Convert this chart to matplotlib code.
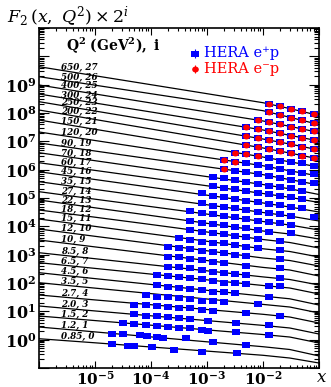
import numpy as np
import matplotlib
matplotlib.use('Agg')
import matplotlib.pyplot as plt
from matplotlib.path import Path
from matplotlib.transforms import Affine2D
from matplotlib.ticker import LogLocator, FixedLocator, NullFormatter

# Q^2 bins (GeV^2) and the power i of the 2^i offset applied to each bin
q2_labels = ['650', '500', '400', '300', '250', '200', '150', '120', '90', '70', '60', '45', '35', '27',
             '22', '18', '15', '12', '10', '8.5', '6.5', '4.5', '3.5', '2.7', '2.0', '1.5', '1.2', '0.85']
shift_i = [27, 26, 25, 24, 23, 22, 21, 20, 19, 18, 17, 16, 15, 14,
           13, 12, 11, 10, 9, 8, 7, 6, 5, 4, 3, 2, 1, 0]

# QCD fit curves: F2 at fixed x nodes, one row per Q^2 bin
x_fit = [1e-6, 1e-5, 1e-4, 1e-3, 1e-2, 3e-2, 1e-1]
f2_fit = [
    [32.1, 15.4, 7.43, 3.58, 1.72, 1.07, 0.608],
    [28.5, 14.3, 7.15, 3.58, 1.80, 1.05, 0.585],
    [29.0, 14.0, 6.72, 3.23, 1.56, 1.01, 0.611],
    [27.9, 13.4, 6.47, 3.11, 1.50, 0.973, 0.612],
    [29.9, 14.0, 6.59, 3.07, 1.44, 0.960, 0.589],
    [30.4, 14.1, 6.50, 3.00, 1.39, 0.924, 0.567],
    [27.0, 12.7, 6.00, 2.82, 1.33, 0.904, 0.592],
    [20.4, 10.2, 5.11, 2.58, 1.31, 0.870, 0.570],
    [16.7, 8.69, 4.54, 2.41, 1.27, 0.851, 0.549],
    [15.1, 7.91, 4.13, 2.17, 1.14, 0.806, 0.507],
    [13.4, 7.19, 3.84, 2.06, 1.10, 0.808, 0.529],
    [12.9, 6.86, 3.64, 1.92, 1.02, 0.734, 0.489],
    [11.5, 6.14, 3.28, 1.76, 0.939, 0.707, 0.471],
    [10.2, 5.54, 3.03, 1.65, 0.904, 0.680, 0.453],
    [10.4, 5.50, 2.94, 1.56, 0.835, 0.655, 0.436],
    [9.21, 5.13, 2.83, 1.54, 0.837, 0.656, 0.420],
    [8.86, 4.86, 2.64, 1.45, 0.787, 0.632, 0.404],
    [7.86, 4.34, 2.42, 1.34, 0.745, 0.608, 0.389],
    [6.43, 3.67, 2.11, 1.21, 0.694, 0.562, 0.345],
    [4.58, 2.81, 1.71, 1.05, 0.641, 0.519, 0.332],
    [4.07, 2.56, 1.61, 1.01, 0.638, 0.520, 0.320],
    [3.61, 2.23, 1.39, 0.863, 0.539, 0.433, 0.261],
    [3.20, 2.06, 1.32, 0.851, 0.549, 0.444, 0.273],
    [2.36, 1.58, 1.07, 0.725, 0.491, 0.394, 0.242],
    [1.93, 1.29, 0.869, 0.589, 0.399, 0.323, 0.198],
    [1.71, 1.18, 0.810, 0.553, 0.380, 0.310, 0.191],
    [1.40, 0.940, 0.626, 0.420, 0.282, 0.225, 0.133],
    [1.08, 0.775, 0.551, 0.395, 0.281, 0.225, 0.150],
]

# HERA e+p measurements: x and F2 per Q^2 bin (same order as above)
ep_x = [
    [1.3e-2, 2e-2, 3.2e-2, 5e-2, 8e-2],
    [1.3e-2, 2e-2, 3.2e-2, 5e-2, 8e-2],
    [8e-3, 1.3e-2, 2e-2, 3.2e-2, 5e-2, 8e-2],
    [5e-3, 8e-3, 1.3e-2, 2e-2, 3.2e-2, 5e-2, 8e-2],
    [5e-3, 8e-3, 1.3e-2, 2e-2, 3.2e-2, 5e-2, 8e-2],
    [5e-3, 8e-3, 1.3e-2, 2e-2, 3.2e-2, 5e-2, 8e-2],
    [3.2e-3, 5e-3, 8e-3, 1.3e-2, 2e-2, 3.2e-2, 5e-2, 8e-2],
    [2e-3, 3.2e-3, 5e-3, 8e-3, 1.3e-2, 2e-2, 3.2e-2, 5e-2, 8e-2],
    [2e-3, 3.2e-3, 5e-3, 8e-3, 1.3e-2, 2e-2, 3.2e-2, 5e-2, 8e-2],
    [1.3e-3, 2e-3, 3.2e-3, 5e-3, 8e-3, 1.3e-2, 2e-2, 3.2e-2, 5e-2],
    [1.3e-3, 2e-3, 3.2e-3, 5e-3, 8e-3, 1.3e-2, 2e-2, 3.2e-2, 5e-2],
    [8e-4, 1.3e-3, 2e-3, 3.2e-3, 5e-3, 8e-3, 1.3e-2, 2e-2, 3.2e-2, 5e-2],
    [8e-4, 1.3e-3, 2e-3, 3.2e-3, 5e-3, 8e-3, 1.3e-2, 2e-2, 3.2e-2, 8e-2],
    [5e-4, 8e-4, 1.3e-3, 2e-3, 3.2e-3, 5e-3, 8e-3, 1.3e-2, 2e-2, 3.2e-2],
    [5e-4, 8e-4, 1.3e-3, 2e-3, 3.2e-3, 5e-3, 8e-3, 1.3e-2, 3.2e-2],
    [5e-4, 8e-4, 1.3e-3, 2e-3, 3.2e-3, 5e-3, 8e-3, 2e-2],
    [3.2e-4, 5e-4, 8e-4, 1.3e-3, 2e-3, 3.2e-3, 5e-3, 8e-3, 2e-2],
    [2e-4, 3.2e-4, 5e-4, 8e-4, 1.3e-3, 2e-3, 3.2e-3, 5e-3, 2e-2],
    [2e-4, 3.2e-4, 5e-4, 8e-4, 1.3e-3, 2e-3, 5e-3, 2e-2],
    [2e-4, 3.2e-4, 5e-4, 8e-4, 1.3e-3, 2e-3, 3.2e-3, 5e-3, 2e-2],
    [1.3e-4, 2e-4, 3.2e-4, 5e-4, 8e-4, 1.3e-3, 2e-3, 3.2e-3, 5e-3, 1.3e-2, 2e-2],
    [1.3e-4, 2e-4, 3.2e-4, 5e-4, 8e-4, 1.3e-3, 2e-3, 3.2e-3, 1.3e-2],
    [8e-5, 1.3e-4, 2e-4, 3.2e-4, 5e-4, 8e-4, 1.3e-3, 2e-3, 8e-3],
    [5e-5, 8e-5, 1.3e-4, 2e-4, 3.2e-4, 5e-4, 8e-4, 1.3e-3, 5e-3, 2e-2],
    [5e-5, 8e-5, 1.3e-4, 2e-4, 3.2e-4, 5e-4, 1.05e-3, 3.3e-3, 1.3e-2],
    [3.2e-5, 5e-5, 8e-5, 1.3e-4, 2e-4, 3.2e-4, 5e-4, 8e-4, 1.05e-3, 3.3e-3, 1.3e-2],
    [2e-5, 3.2e-5, 6.4e-5, 8.4e-5, 1.3e-4, 1.66e-4, 4.2e-4, 1.3e-3, 5e-3],
    [2e-5, 3.9e-5, 5e-5, 1.03e-4, 2.6e-4, 8e-4, 3.4e-3],
]
ep_f2 = [
    [1.55, 1.32, 1.03, 0.877, 0.687],
    [1.66, 1.27, 1.02, 0.844, 0.645],
    [1.69, 1.40, 1.19, 0.979, 0.812, 0.690],
    [1.86, 1.58, 1.38, 1.15, 0.942, 0.801, 0.664],
    [1.84, 1.53, 1.33, 1.10, 0.937, 0.771, 0.639],
    [1.77, 1.47, 1.28, 1.09, 0.902, 0.742, 0.631],
    [1.89, 1.70, 1.45, 1.20, 0.988, 0.868, 0.800, 0.658],
    [2.09, 1.82, 1.60, 1.39, 1.16, 0.983, 0.808, 0.710, 0.671],
    [1.97, 1.75, 1.54, 1.31, 1.14, 0.946, 0.824, 0.683, 0.672],
    [2.15, 1.89, 1.61, 1.43, 1.19, 1.01, 0.956, 0.839, 0.690],
    [2.07, 1.76, 1.55, 1.35, 1.17, 1.03, 0.898, 0.808, 0.703],
    [2.24, 1.84, 1.62, 1.41, 1.23, 1.08, 0.914, 0.864, 0.717, 0.661],
    [1.98, 1.63, 1.50, 1.32, 1.15, 1.00, 0.880, 0.811, 0.707, 0.652],
    [2.07, 1.76, 1.62, 1.45, 1.27, 1.08, 0.965, 0.847, 0.781, 0.680],
    [1.88, 1.64, 1.44, 1.33, 1.18, 1.04, 0.906, 0.789, 0.693],
    [1.81, 1.58, 1.39, 1.31, 1.11, 1.00, 0.872, 0.741],
    [1.85, 1.61, 1.40, 1.29, 1.23, 1.07, 0.933, 0.819, 0.713],
    [1.78, 1.64, 1.51, 1.35, 1.24, 1.09, 0.950, 0.876, 0.670],
    [1.66, 1.58, 1.34, 1.27, 1.10, 1.02, 0.778, 0.645],
    [1.47, 1.40, 1.29, 1.12, 0.979, 0.902, 0.792, 0.748, 0.601],
    [1.50, 1.38, 1.24, 1.14, 1.06, 0.897, 0.801, 0.762, 0.703, 0.612, 0.612],
    [1.33, 1.16, 1.07, 0.960, 0.885, 0.770, 0.770, 0.677, 0.513],
    [1.18, 1.03, 0.978, 0.901, 0.851, 0.742, 0.724, 0.684, 0.567],
    [1.05, 1.05, 0.964, 0.867, 0.800, 0.800, 0.697, 0.642, 0.533, 0.428],
    [0.982, 0.855, 0.855, 0.770, 0.710, 0.670, 0.570, 0.473, 0.412],
    [0.945, 0.893, 0.823, 0.759, 0.683, 0.630, 0.630, 0.548, 0.506, 0.455, 0.356],
    [0.792, 0.792, 0.713, 0.657, 0.606, 0.559, 0.559, 0.404, 0.316],
    [0.686, 0.598, 0.598, 0.538, 0.432, 0.358, 0.330],
]

# HERA e-p measurements (high Q^2 bins only), keyed by shift i
em_i = [27, 26, 25, 24, 23, 22, 21, 20, 19]
em_x = [
    [1.3e-2, 2e-2, 3.2e-2, 5e-2, 8e-2],
    [1.3e-2, 2e-2, 3.2e-2, 5e-2, 8e-2],
    [8e-3, 1.3e-2, 2e-2, 3.2e-2, 5e-2, 8e-2],
    [5e-3, 8e-3, 1.3e-2, 2e-2, 3.2e-2, 5e-2, 8e-2],
    [5e-3, 8e-3, 1.3e-2, 2e-2, 3.2e-2, 5e-2, 8e-2],
    [5e-3, 8e-3, 1.3e-2, 2e-2, 3.2e-2, 5e-2, 8e-2],
    [3.2e-3, 5e-3, 8e-3],
    [2e-3, 3.2e-3],
    [2e-3],
]
em_f2 = [
    [1.55, 1.32, 1.03, 0.877, 0.687],
    [1.66, 1.27, 1.02, 0.844, 0.645],
    [1.69, 1.40, 1.19, 0.979, 0.812, 0.690],
    [1.86, 1.58, 1.38, 1.15, 0.942, 0.801, 0.664],
    [1.84, 1.53, 1.33, 1.10, 0.937, 0.771, 0.639],
    [1.77, 1.47, 1.28, 1.09, 0.902, 0.742, 0.631],
    [1.89, 1.70, 1.45],
    [2.09, 1.82],
    [1.97],
]

y_decades = list(range(-1, 12))
x_decades = list(range(-6, 0))

plt.rcParams['mathtext.fontset'] = 'dejavuserif'
fig = plt.figure(figsize=(3.31, 3.87), dpi=100)
ax = fig.add_axes([39 / 331, 19 / 387, 280 / 331, 340 / 387])
ax.set_xscale('log')
ax.set_yscale('log')
ax.set_xlim(1e-6, 1e-1)
ax.set_ylim(0.1, 1e11)

# slightly wide box and oval markers
box = Path([(-1.37, -1), (1.37, -1), (1.37, 1), (-1.37, 1), (-1.37, -1)], closed=True)
oval = Affine2D().scale(1.12, 1.0).transform_path(Path.unit_circle())
blue, red = '#0000ff', '#ff0000'

lx_fit = np.log10(x_fit)
for k, i in enumerate(shift_i):
    scale = 2.0 ** i
    yfit = np.array(f2_fit[k]) * scale
    ax.plot(x_fit, yfit, color='black', lw=0.9, zorder=2)
    ylab = 10 ** np.interp(np.log10(4.5e-6), lx_fit, np.log10(yfit))
    ax.text(2.47e-6, ylab * 1.03, '%s, %d' % (q2_labels[k], i), fontsize=6.3, family='DejaVu Serif',
            weight='bold', style='italic', va='bottom', ha='left', zorder=3)
    ax.plot(ep_x[k], np.array(ep_f2[k]) * scale, ls='none', marker=box, ms=5.3, mew=0,
            color=blue, zorder=4)

for i, xs, fs in zip(em_i, em_x, em_f2):
    ax.plot(xs, np.array(fs) * 2.0 ** i, ls='none', marker=oval, ms=4.8, mew=0, color=red, zorder=5)

ax.yaxis.set_major_locator(FixedLocator([10.0 ** e for e in y_decades]))
ax.yaxis.set_minor_locator(LogLocator(base=10, subs=np.arange(2, 10), numticks=30))
ax.xaxis.set_major_locator(FixedLocator([10.0 ** e for e in x_decades]))
ax.xaxis.set_minor_locator(LogLocator(base=10, subs=np.arange(2, 10), numticks=30))
ax.yaxis.set_minor_formatter(NullFormatter())
ax.xaxis.set_minor_formatter(NullFormatter())
ax.set_yticklabels(['' if e < 0 or e > 9 else r'$\mathbf{10^{%d}}$' % e for e in y_decades])
ax.set_xticklabels(['' if e in (-6, -1) else r'$\mathbf{10^{%d}}$' % e for e in x_decades])
ax.tick_params(which='both', direction='in', top=True, right=True, width=0.8)
ax.tick_params(axis='y', which='major', length=7, labelsize=11.5, pad=2)
ax.tick_params(axis='y', which='minor', length=3.5)
ax.tick_params(axis='x', which='major', length=5, labelsize=11, pad=1)
ax.tick_params(axis='x', which='minor', length=2.5)
for sp in ax.spines.values():
    sp.set_linewidth(1.2)

ax.text(0.096, 0.95, r'$\mathbf{Q^2\ (GeV^2),\ i}$', transform=ax.transAxes, fontsize=10, va='center')

# legend
leg_y = [0.925, 0.879]
ax.errorbar([0.557], [leg_y[0]], yerr=[0.012], transform=ax.transAxes, fmt='none', ecolor=blue, lw=0.8)
ax.plot([0.557], [leg_y[0]], transform=ax.transAxes, marker=box, ms=5.3, mew=0, color=blue, ls='none')
ax.errorbar([0.557], [leg_y[1]], yerr=[0.012], transform=ax.transAxes, fmt='none', ecolor=red, lw=0.8)
ax.plot([0.557], [leg_y[1]], transform=ax.transAxes, marker=oval, ms=4.8, mew=0, color=red, ls='none')
ax.text(0.588, leg_y[0], 'HERA e\u207ap', transform=ax.transAxes, fontsize=10.5, color=blue,
        family=['DejaVu Serif', 'DejaVu Sans'], va='center')
ax.text(0.588, leg_y[1], 'HERA e\u207bp', transform=ax.transAxes, fontsize=10.5, color=red,
        family=['DejaVu Serif', 'DejaVu Sans'], va='center')

fig.text(7 / 331, 1 - 17 / 387, r'$F_2\,(x,\ Q^2)\times 2^i$', fontsize=12.5, va='center', ha='left')
fig.text(322 / 331, 1 - 377 / 387, r'$x$', fontsize=12, va='center', ha='center')
fig.savefig('out.png', dpi=100)
